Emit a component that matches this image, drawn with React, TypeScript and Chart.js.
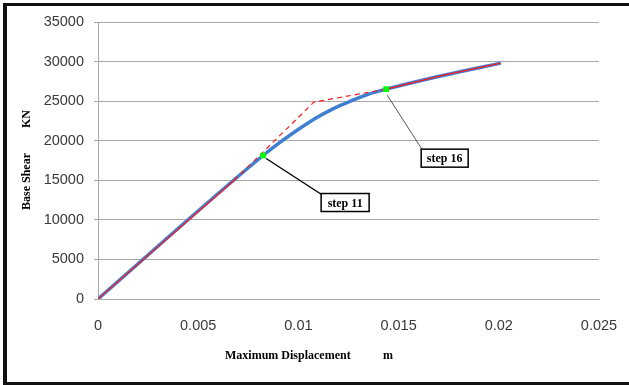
import React, { useEffect, useRef } from "react";
import { Chart, registerables } from "chart.js";

Chart.register(...registerables);

// Pushover curve (blue)
const displacement = [0, 0.00824, 0.0092, 0.0101, 0.0109, 0.0117, 0.0126, 0.0134, 0.01438, 0.0172, 0.0201];
const baseShear = [0, 18130, 20000, 21600, 22900, 24000, 25000, 25800, 26515, 28250, 29800];

// Idealised bilinear curve (red)
const idealDisp = [0, 0.0068, 0.01077, 0.01438, 0.0172, 0.0201];
const idealShear = [0, 15000, 24874, 26515, 28250, 29800];

// Marked steps
const stepLabels = ["step 11", "step 16"];
const stepDisp = [0.00824, 0.01438];
const stepShear = [18130, 26515];

// Axes
const xTickValues = [0, 0.005, 0.01, 0.015, 0.02, 0.025];
const yTickValues = [0, 5000, 10000, 15000, 20000, 25000, 30000, 35000];
const xTitle = "Maximum Displacement";
const xUnit = "m";
const yTitle = "Base Shear";
const yUnit = "KN";

const SERIF = "'Liberation Serif', 'Times New Roman', serif";
const SANS = "'Liberation Sans', Arial, sans-serif";

const decorPlugin = {
  id: "decor",
  afterDatasetsDraw(chart: any) {
    const ctx = chart.ctx;
    const xs = chart.scales.x;
    const ys = chart.scales.y;
    const offsets = [
      { bx: 58, by: 38, w: 48, h: 18, lineColor: "#000", lw: 1.4, lx: 3, ly: 3 },
      { bx: 35, by: 60, w: 47, h: 18, lineColor: "#555", lw: 1, lx: 1, ly: 6 },
    ];
    stepLabels.forEach((label, i) => {
      const px = xs.getPixelForValue(stepDisp[i]);
      const py = ys.getPixelForValue(stepShear[i]);
      const o = offsets[i];
      const bx = px + o.bx;
      const by = py + o.by;
      ctx.save();
      ctx.strokeStyle = o.lineColor;
      ctx.lineWidth = o.lw;
      ctx.beginPath();
      ctx.moveTo(px + o.lx, py + o.ly);
      ctx.lineTo(bx + 2, by + 2);
      ctx.stroke();
      ctx.fillStyle = "#fff";
      ctx.fillRect(bx, by, o.w, o.h);
      ctx.strokeStyle = "#000";
      ctx.lineWidth = 1.5;
      ctx.strokeRect(bx, by, o.w, o.h);
      ctx.fillStyle = "#000";
      ctx.font = "bold 12px " + SERIF;
      ctx.textAlign = "center";
      ctx.textBaseline = "middle";
      ctx.fillText(label, bx + o.w / 2, by + o.h / 2 + 1);
      ctx.restore();
    });
  },
  afterDraw(chart: any) {
    const ctx = chart.ctx;
    ctx.save();
    ctx.fillStyle = "#000";
    ctx.font = "bold 12px " + SERIF;
    ctx.textBaseline = "middle";
    ctx.textAlign = "left";
    ctx.fillText(xTitle, 225, 356);
    ctx.fillText(xUnit, 383, 356);
    ctx.translate(27, 210);
    ctx.rotate(-Math.PI / 2);
    ctx.fillText(yTitle, 0, 0);
    ctx.fillText(yUnit, 82, 0);
    ctx.restore();
    // frame
    ctx.save();
    ctx.fillStyle = "#111";
    ctx.fillRect(3, 3, 4, 382);
    ctx.fillRect(3, 3, 626, 3);
    ctx.fillRect(3, 382, 626, 3);
    ctx.restore();
  },
};

export default function App() {
  const ref = useRef<HTMLCanvasElement | null>(null);

  useEffect(() => {
    if (!ref.current) return;
    const chart = new Chart(ref.current, {
      type: "scatter",
      data: {
        datasets: [
          {
            label: "Pushover",
            data: displacement.map((x, i) => ({ x, y: baseShear[i] })),
            showLine: true,
            borderColor: "#3f7fd2",
            borderWidth: 3.5,
            pointRadius: 0,
            cubicInterpolationMode: "monotone",
            fill: false,
            order: 3,
          },
          {
            label: "Idealised",
            data: idealDisp.map((x, i) => ({ x, y: idealShear[i] })),
            showLine: true,
            borderColor: "#ff1a1a",
            borderWidth: 1.2,
            pointRadius: 0,
            tension: 0,
            fill: false,
            order: 2,
            segment: {
              borderDash: (c: any) => (c.p0DataIndex === 1 || c.p0DataIndex === 2 ? [5, 4] : undefined),
            },
          },
          {
            label: "Steps",
            data: stepDisp.map((x, i) => ({ x, y: stepShear[i] })),
            showLine: false,
            pointStyle: "rect",
            pointRadius: 4,
            backgroundColor: "#00ff00",
            borderColor: "#00ff00",
            borderWidth: 0,
            order: 1,
          },
        ],
      } as any,
      options: {
        responsive: false,
        animation: false,
        layout: { padding: { left: 0, top: 22, right: 30, bottom: 0 } },
        plugins: {
          legend: { display: false },
          tooltip: { enabled: false },
          title: { display: false },
        },
        scales: {
          x: {
            type: "linear",
            min: 0,
            max: 0.025,
            afterBuildTicks: (s: any) => {
              s.ticks = xTickValues.map((v) => ({ value: v }));
            },
            afterFit: (s: any) => {
              s.height = 86;
            },
            grid: {
              display: true,
              drawOnChartArea: false,
              drawTicks: true,
              tickLength: 15,
              color: "rgba(0,0,0,0)",
            },
            border: { display: true, color: "#a8a8a8", width: 1 },
            ticks: {
              padding: 3,
              color: "#3a3a3a",
              font: { family: SANS, size: 14.5 },
              maxRotation: 0,
              callback: (v: any) => String(Number(Number(v).toFixed(3))),
            },
          },
          y: {
            type: "linear",
            min: 0,
            max: 35000,
            afterBuildTicks: (s: any) => {
              s.ticks = yTickValues.map((v) => ({ value: v }));
            },
            afterFit: (s: any) => {
              s.width = 98;
            },
            grid: { color: "#a8a8a8", lineWidth: 1, tickLength: 4, drawTicks: true },
            border: { display: true, color: "#a8a8a8", width: 1 },
            ticks: {
              padding: 10,
              color: "#3a3a3a",
              font: { family: SANS, size: 14.5 },
              callback: (v: any) => String(v),
            },
          },
        },
      } as any,
      plugins: [decorPlugin],
    });
    return () => chart.destroy();
  }, []);

  return (
    <div style={{ position: "fixed", left: 0, top: 0, width: 629, height: 385, background: "#fff" }}>
      <canvas ref={ref} width={629} height={385} style={{ display: "block" }} />
    </div>
  );
}
